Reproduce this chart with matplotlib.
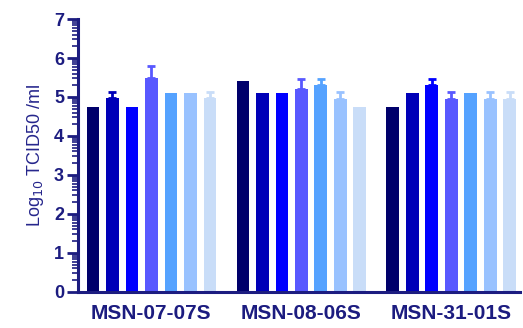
import numpy as np
import matplotlib.pyplot as plt

# 病毒株与滴度数据 (Log10 TCID50/ml)
strains = ['MSN-07-07S', 'MSN-08-06S', 'MSN-31-01S']
colors = ['#00006b', '#0000b8', '#0000ff', '#5858ff', '#55a2ff', '#99c2ff', '#c9ddf8']

titer_07 = [4.75, 4.97, 4.75, 5.48, 5.11, 5.11, 4.97]
titer_08 = [5.42, 5.11, 5.11, 5.21, 5.32, 4.96, 4.75]
titer_31 = [4.75, 5.11, 5.32, 4.96, 5.11, 4.96, 4.96]

err_07 = [0, 0.16, 0, 0.31, 0, 0, 0.16]
err_08 = [0, 0, 0, 0.25, 0.14, 0.16, 0]
err_31 = [0, 0, 0.14, 0.16, 0, 0.16, 0.16]

titers = np.array([titer_07, titer_08, titer_31])
errs = np.array([err_07, err_08, err_31])

navy = '#1c1c80'
plt.rcParams['font.family'] = ['Liberation Sans', 'DejaVu Sans']

fig = plt.figure(figsize=(5.23, 3.28), dpi=100)
ax = fig.add_axes([0.149, 0.11, 0.845, 0.832])

x = np.arange(len(strains))
step, width = 0.13, 0.085
for i, c in enumerate(colors):
    xs = x + (i - 3) * step
    ax.bar(xs, titers[:, i], width=width, color=c, zorder=2)
    e = errs[:, i]
    m = e > 0
    if m.any():
        ax.errorbar(xs[m], titers[m, i], yerr=[np.zeros(m.sum()), e[m]],
                    fmt='none', ecolor=c, elinewidth=2, capsize=3, capthick=2, zorder=3)

ax.set_ylim(0, 7)
ax.set_xlim(-0.49, 2.457)
ax.set_yticks(range(8))
minor = [n + np.log10(k) for n in range(7) for k in range(2, 10)]
ax.set_yticks(minor, minor=True)
ax.set_xticks(x)
ax.set_xticklabels(strains)

for s in ['top', 'right']:
    ax.spines[s].set_visible(False)
for s in ['left', 'bottom']:
    ax.spines[s].set_color(navy)
    ax.spines[s].set_linewidth(2.2)

ax.tick_params(axis='y', which='major', length=8, width=2, color=navy,
               labelcolor=navy, labelsize=13, pad=2)
ax.tick_params(axis='y', which='minor', length=4, width=1.2, color=navy)
ax.tick_params(axis='x', length=0, labelcolor=navy, labelsize=15, pad=8.5)
for lbl in ax.get_xticklabels() + ax.get_yticklabels():
    lbl.set_fontweight('bold')

ax.set_ylabel('Log$_{10}$ TCID50 /ml', color='#26268c', fontsize=13, labelpad=6)

fig.savefig('out.png', dpi=100)
